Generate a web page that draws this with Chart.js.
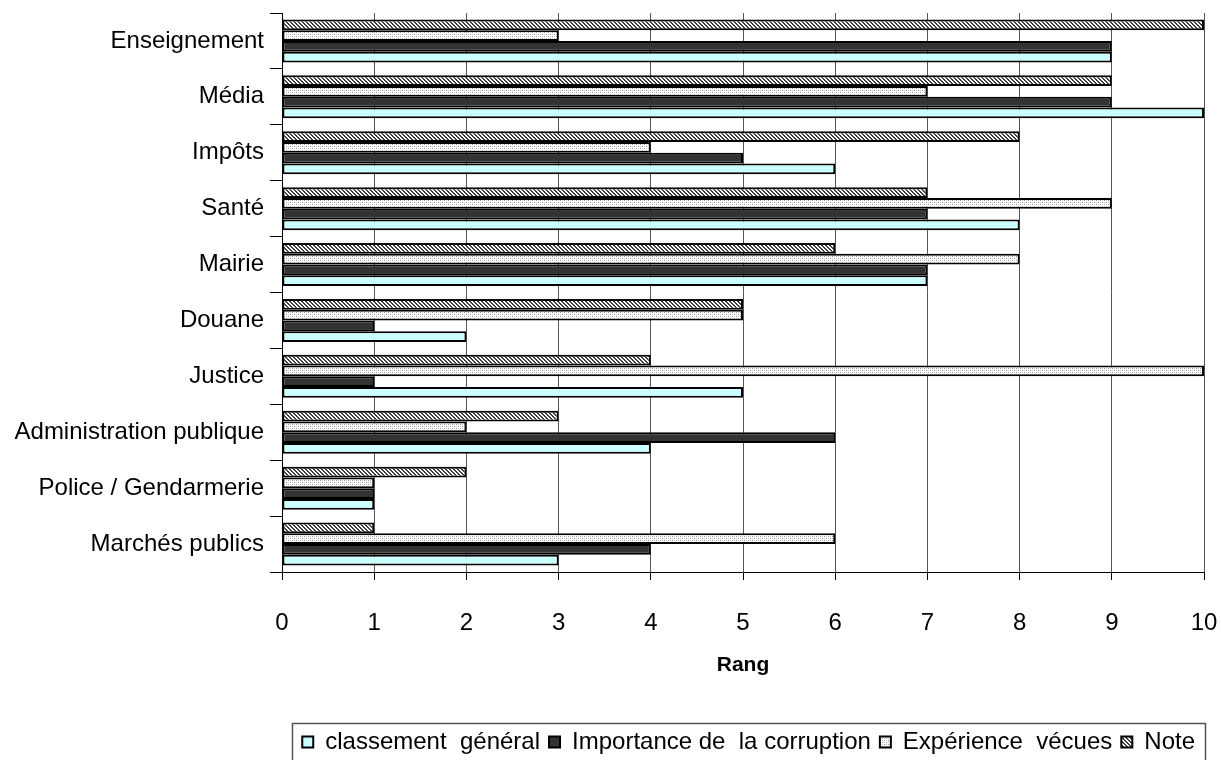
<!DOCTYPE html>
<html><head><meta charset="utf-8">
<script src="https://cdn.jsdelivr.net/npm/chart.js@4.4.1/dist/chart.umd.min.js"></script>
<style>html,body{margin:0;padding:0;background:#fff}#wrap{width:1221px;height:760px}</style>
</head><body><div id="wrap"><canvas id="c" width="1221" height="760"></canvas></div>
<script>
const categories = ["Enseignement","Média","Impôts","Santé","Mairie","Douane","Justice","Administration publique","Police / Gendarmerie","Marchés publics"];
const classementGeneral = [9,10,6,8,7,2,5,4,1,3];
const importanceCorruption = [9,9,5,7,7,1,1,6,1,4];
const experienceVecues = [3,7,4,9,8,5,10,2,1,6];
const note = [10,9,8,7,6,5,4,3,2,1];
const seriesNames = ["classement  général","Importance de  la corruption","Expérience  vécues","Note"];
const xMin = 0, xMax = 10, xStep = 1;
const axisTitle = "Rang";

const FONT = "'Liberation Sans', Arial, sans-serif";

function makePattern(kind){
  const p = document.createElement('canvas');
  p.width = 4; p.height = 4;
  const g = p.getContext('2d');
  if (kind === 'hatch'){
    g.fillStyle = '#ffffff'; g.fillRect(0,0,4,4);
    g.fillStyle = '#404040';
    for (let y=0;y<4;y++) for (let x=0;x<4;x++){
      const d = ((x - y) % 4 + 4) % 4;
      if (d === 0 || d === 1) g.fillRect(x,y,1,1);
    }
  } else {
    g.fillStyle = '#ffffff'; g.fillRect(0,0,4,4);
    g.fillStyle = '#9a9a9a';
    g.fillRect(0,0,1,1); g.fillRect(2,2,1,1);
    g.fillStyle = '#c8c8c8';
    g.fillRect(2,0,1,1); g.fillRect(0,2,1,1);
  }
  return document.getElementById('c').getContext('2d').createPattern(p,'repeat');
}

const legendBorder = {
  id:'legendBorder',
  afterDraw(chart){
    const lg = chart.legend;
    if (!lg || !lg.legendHitBoxes || !lg.legendHitBoxes.length) return;
    let l = Infinity, r = -Infinity;
    const hb = lg.legendHitBoxes;
    hb.forEach(b=>{ l = Math.min(l,b.left); r = Math.max(r,b.left+b.width); });
    const cy = hb[0].top + hb[0].height/2;
    const ctx = chart.ctx;
    ctx.save();
    ctx.strokeStyle = '#555'; ctx.lineWidth = 1.5;
    ctx.strokeRect(Math.round(l-10)+0.5, Math.round(cy-19)+0.5, Math.round(r-l+20), 60);
    ctx.restore();
  }
};

const common = {borderColor:'#000', borderWidth:2, borderSkipped:false, categoryPercentage:0.77, barPercentage:1.0};

new Chart(document.getElementById('c'), {
  type:'bar',
  data:{
    labels: categories,
    datasets:[
      Object.assign({label:seriesNames[3], data:note, backgroundColor:makePattern('hatch')}, common),
      Object.assign({label:seriesNames[2], data:experienceVecues, backgroundColor:makePattern('dots')}, common),
      Object.assign({label:seriesNames[1], data:importanceCorruption, backgroundColor:'#333333'}, common),
      Object.assign({label:seriesNames[0], data:classementGeneral, backgroundColor:'#ccffff'}, common)
    ]
  },
  options:{
    responsive:false, animation:false, indexAxis:'y',
    layout:{padding:{top:13,right:17,left:0,bottom:-4}},
    plugins:{
      legend:{position:'bottom', reverse:true, align:'end',
        labels:{boxWidth:11, boxHeight:11, padding:9, color:'#000', font:{family:FONT, size:24}}},
      tooltip:{enabled:false}
    },
    scales:{
      x:{min:xMin, max:xMax,
        ticks:{stepSize:xStep, color:'#000', padding:29, font:{family:FONT, size:24}},
        grid:{color:'#555', tickLength:8, tickColor:'#000'},
        border:{color:'#000', width:1},
        title:{display:true, text:axisTitle, color:'#000', font:{family:FONT, size:21, weight:'bold'}, padding:{top:0,bottom:43}},
        afterFit(s){ s.height = 149; s.paddingLeft = 0; s.paddingRight = 0; }
      },
      y:{
        grid:{offset:true, drawOnChartArea:false, tickLength:12, color:'#000'},
        border:{color:'#000', width:1},
        ticks:{padding:6, color:'#000', font:{family:FONT, size:24}},
        afterFit(s){ s.width = 282; s.paddingTop = 0; s.paddingBottom = 0; }
      }
    }
  },
  plugins:[legendBorder]
});
</script></body></html>
